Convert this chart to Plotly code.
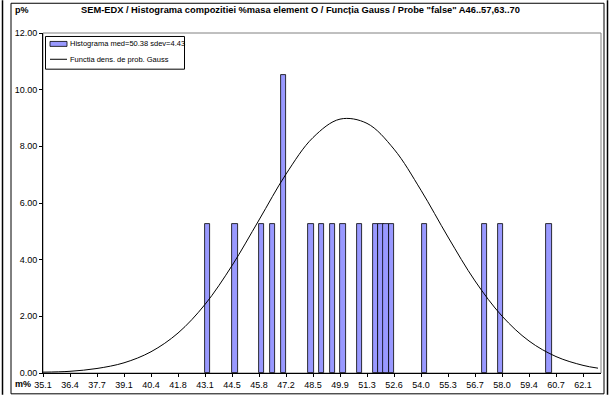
import plotly.graph_objects as go

# ---- data ----
TICK_LABELS = ["35.1", "36.4", "37.7", "39.1", "40.4", "41.8", "43.1", "44.5", "45.8", "47.2",
               "48.5", "49.9", "51.3", "52.6", "54.0", "55.3", "56.7", "58.0", "59.4", "60.7", "62.1"]
AXIS_START = 35.1
AXIS_STEP = 1.35
AXIS_END = 63.0

# histogram bars (m% values, p% heights)
bar_x = [43.32, 44.69, 46.02, 46.57, 47.12, 48.49, 49.02, 49.56, 50.10, 50.92,
         51.73, 51.99, 52.25, 52.52, 54.17, 57.17, 57.98, 60.40]
bar_y = [5.26, 5.26, 5.26, 5.26, 10.53, 5.26, 5.26, 5.26, 5.26, 5.26,
         5.26, 5.26, 5.26, 5.26, 5.26, 5.26, 5.26, 5.26]

# Gauss density curve read at the tick positions (p%)
curve_x = [35.1, 36.45, 37.8, 39.15, 40.5, 41.85, 43.2, 44.55, 45.9, 47.25, 48.6,
           49.95, 51.3, 52.65, 54.0, 55.35, 56.7, 58.05, 59.4, 60.75, 62.1, 62.85]
curve_y = [0.03, 0.06, 0.16, 0.36, 0.75, 1.41, 2.42, 3.79, 5.40, 7.02, 8.31,
           8.96, 8.81, 7.90, 6.45, 4.80, 3.25, 2.01, 1.13, 0.58, 0.27, 0.17]

Y_TICKS = [0, 2, 4, 6, 8, 10, 12]

TITLE = 'SEM-EDX / Histograma compozitiei %masa element O / Funcția Gauss / Probe "false" A46..57,63..70'
LEG_BAR = "Histograma med=50.38 sdev=4.43"
LEG_LINE = "Functia dens. de prob. Gauss"

FONT = "Liberation Sans, Arial, sans-serif"
BAR_COLOR = "#9999FF"

tickvals = [AXIS_START + AXIS_STEP * i for i in range(len(TICK_LABELS))]

fig = go.Figure()
fig.add_trace(go.Bar(x=bar_x, y=bar_y, width=0.27, name=LEG_BAR,
                     marker=dict(color=BAR_COLOR, line=dict(color="#000000", width=0.8))))
fig.add_trace(go.Scatter(x=curve_x, y=curve_y, mode="lines", name=LEG_LINE,
                         line=dict(color="#000000", width=1, shape="spline", smoothing=1.0)))

W, H = 609, 398
L, R, T, B = 43, 8, 33, 22
pw, ph = W - L - R, H - T - B

def px(x):
    return (x - L) / pw

def py(y):
    return (H - B - y) / ph

fig.update_layout(
    width=W, height=H,
    margin=dict(l=L, r=R, t=T, b=B, pad=0),
    paper_bgcolor="white", plot_bgcolor="white",
    font=dict(family=FONT, size=9, color="#000000"),
    bargap=0,
    showlegend=False,
    xaxis=dict(range=[AXIS_START, AXIS_END], tickmode="array", tickvals=tickvals,
               ticktext=TICK_LABELS, ticks="outside", ticklen=3, tickcolor="#000",
               showline=True, linecolor="#000", linewidth=1, showgrid=False,
               zeroline=False, tickfont=dict(size=9)),
    yaxis=dict(range=[0, 12], tickmode="array", tickvals=Y_TICKS,
               ticktext=[f"{v:.2f}" for v in Y_TICKS], ticks="outside", ticklen=3,
               tickcolor="#000", showline=True, linecolor="#000", linewidth=1,
               showgrid=False, zeroline=False, tickfont=dict(size=9)),
    xaxis2=dict(overlaying="x", anchor="y", side="bottom", range=[AXIS_START, AXIS_END],
                tickmode="array", tickvals=tickvals, ticks="inside", ticklen=3,
                tickcolor="#000", showticklabels=False, showline=False, showgrid=False,
                zeroline=False),
    yaxis2=dict(overlaying="y", anchor="x", side="left", range=[0, 12],
                tickmode="array", tickvals=Y_TICKS, ticks="inside", ticklen=3,
                tickcolor="#000", showticklabels=False, showline=False, showgrid=False,
                zeroline=False),
)

shapes = [
    # plot area border
    dict(type="rect", xref="paper", yref="paper", x0=0, y0=0, x1=1, y1=1,
         line=dict(color="#808080", width=1), layer="below"),
    # chart area border
    dict(type="rect", xref="paper", yref="paper", x0=px(11), y0=py(397), x1=px(604), y1=py(3),
         line=dict(color="#000000", width=1)),
    # outer page lines
    dict(type="line", xref="paper", yref="paper", x0=px(2.5), x1=px(2.5), y0=py(398), y1=py(0),
         line=dict(color="#000000", width=1.5)),
    dict(type="line", xref="paper", yref="paper", x0=px(607.5), x1=px(607.5), y0=py(398), y1=py(0),
         line=dict(color="#000000", width=1.5)),
    # legend box
    dict(type="rect", xref="paper", yref="paper", x0=px(45.5), y0=py(69.5), x1=px(184.5), y1=py(36.5),
         line=dict(color="#000000", width=1), fillcolor="white"),
    # legend bar swatch
    dict(type="rect", xref="paper", yref="paper", x0=px(50), y0=py(46.5), x1=px(67), y1=py(41.5),
         line=dict(color="#000000", width=0.8), fillcolor=BAR_COLOR),
    # legend line swatch
    dict(type="line", xref="paper", yref="paper", x0=px(50), y0=py(59.5), x1=px(67), y1=py(59.5),
         line=dict(color="#000000", width=1)),
]
fig.update_layout(shapes=shapes)

fig.add_annotation(text=LEG_BAR, xref="paper", yref="paper",
                   x=px(68), y=py(44), xanchor="left", yanchor="middle",
                   showarrow=False, font=dict(size=7.5, family=FONT))
fig.add_annotation(text=LEG_LINE, xref="paper", yref="paper",
                   x=px(68), y=py(59.5), xanchor="left", yanchor="middle",
                   showarrow=False, font=dict(size=7.5, family=FONT))

fig.add_annotation(text="<b>" + TITLE + "</b>", xref="paper", yref="paper",
                   x=px(300), y=py(10), xanchor="center", yanchor="middle",
                   showarrow=False, font=dict(size=9.3, family=FONT))
fig.add_annotation(text="<b>p%</b>", xref="paper", yref="paper",
                   x=px(13), y=py(10), xanchor="left", yanchor="middle",
                   showarrow=False, font=dict(size=9, family=FONT))
fig.add_annotation(text="<b>m%</b>", xref="paper", yref="paper",
                   x=px(13), y=py(387), xanchor="left", yanchor="middle",
                   showarrow=False, font=dict(size=9, family=FONT))

fig.write_html("out.html")
